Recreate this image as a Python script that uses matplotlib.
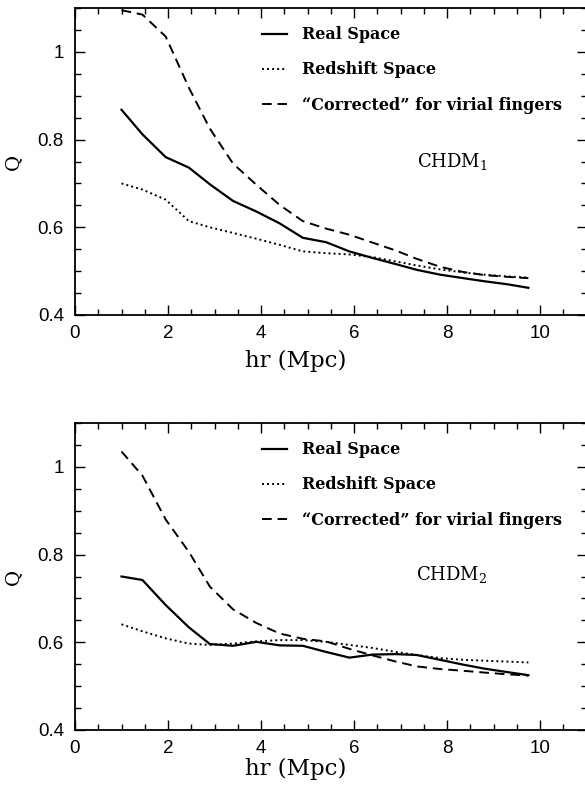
import matplotlib
matplotlib.use("Agg")
import matplotlib.pyplot as plt
from matplotlib.ticker import MultipleLocator

# ---------------- data ----------------
hr = [1.0, 1.45, 1.95, 2.45, 2.9, 3.4, 3.9, 4.4, 4.9, 5.4,
      5.9, 6.4, 6.9, 7.35, 7.85, 8.35, 8.8, 9.3, 9.75]

# CHDM1 (top)
q1_real = [0.868, 0.812, 0.760, 0.736, 0.698, 0.660, 0.636, 0.609, 0.576, 0.566,
           0.545, 0.530, 0.516, 0.503, 0.492, 0.484, 0.477, 0.470, 0.462]
q1_redshift = [0.700, 0.686, 0.663, 0.614, 0.600, 0.587, 0.574, 0.560, 0.545, 0.541,
               0.538, 0.532, 0.522, 0.513, 0.504, 0.497, 0.492, 0.488, 0.485]
q1_corrected = [1.095, 1.085, 1.035, 0.918, 0.825, 0.745, 0.697, 0.651, 0.614, 0.597,
                0.583, 0.565, 0.547, 0.528, 0.510, 0.498, 0.491, 0.487, 0.484]

# CHDM2 (bottom)
q2_real = [0.750, 0.742, 0.685, 0.634, 0.596, 0.592, 0.601, 0.593, 0.592, 0.578,
           0.565, 0.572, 0.573, 0.571, 0.560, 0.549, 0.540, 0.532, 0.525]
q2_redshift = [0.641, 0.625, 0.609, 0.597, 0.594, 0.597, 0.602, 0.605, 0.605, 0.601,
               0.594, 0.587, 0.578, 0.571, 0.564, 0.560, 0.558, 0.556, 0.554]
q2_corrected = [1.035, 0.980, 0.880, 0.806, 0.727, 0.675, 0.644, 0.620, 0.608, 0.602,
                0.585, 0.570, 0.556, 0.545, 0.539, 0.535, 0.531, 0.527, 0.524]

legend_labels = ["Real Space", "Redshift Space", "\u201cCorrected\u201d for virial fingers"]
model_labels = [r"CHDM$_1$", r"CHDM$_2$"]
x_label = "hr (Mpc)"
y_label = "Q"
x_ticks = [0, 2, 4, 6, 8, 10]
y_ticks = [0.4, 0.6, 0.8, 1.0]
y_tick_labels = ["0.4", "0.6", "0.8", "1"]

# ---------------- style ----------------
plt.rcParams["mathtext.fontset"] = "dejavuserif"
SANS = "Liberation Sans"
SERIF = "DejaVu Serif"

fig = plt.figure(figsize=(5.85, 7.91), dpi=100)
left = 75 / 585
width = 511.5 / 585
height = 307 / 791
axes_specs = [
    (1 - 315 / 791, q1_real, q1_redshift, q1_corrected, model_labels[0], -0.15, 0.50),
    (1 - 730 / 791, q2_real, q2_redshift, q2_corrected, model_labels[1], -0.127, 0.508),
]

for bottom, real, red, corr, mlabel, xlab_y, mlab_y in axes_specs:
    ax = fig.add_axes([left, bottom, width, height])
    l1, = ax.plot(hr, real, color="black", lw=1.6, linestyle="-")
    l2, = ax.plot(hr, red, color="black", lw=1.4, linestyle=(0, (1, 1.6)))
    l3, = ax.plot(hr, corr, color="black", lw=1.4, linestyle=(0, (5, 3)))

    ax.set_xlim(0, 11)
    ax.set_ylim(0.4, 1.1)
    ax.set_xticks(x_ticks)
    ax.set_xticklabels([str(t) for t in x_ticks])
    ax.set_yticks(y_ticks)
    ax.set_yticklabels(y_tick_labels)
    ax.xaxis.set_minor_locator(MultipleLocator(0.5))
    ax.yaxis.set_minor_locator(MultipleLocator(0.05))
    ax.tick_params(which="both", direction="in", top=True, right=True, width=1.0)
    ax.tick_params(which="major", length=7)
    ax.tick_params(which="minor", length=4)
    ax.tick_params(axis="x", which="major", pad=7)
    ax.tick_params(axis="y", which="major", pad=8)
    for lab in ax.get_xticklabels() + ax.get_yticklabels():
        lab.set_fontfamily(SANS)
        lab.set_fontsize(13.5)
    for sp in ax.spines.values():
        sp.set_linewidth(1.3)

    ax.set_xlabel(x_label, fontfamily=SERIF, fontsize=16.5, va="center")
    ax.xaxis.set_label_coords(0.432, xlab_y)
    ax.set_ylabel(y_label, fontfamily=SERIF, fontsize=14, va="center", ha="center")
    ax.yaxis.set_label_coords(-0.121, 0.5)

    ax.text(0.737, mlab_y, mlabel, transform=ax.transAxes, fontfamily=SERIF,
            fontsize=13, ha="center", va="center")

    ax.legend([l1, l2, l3], legend_labels, loc="upper left",
              bbox_to_anchor=(0.365, 0.94), frameon=False, borderpad=0,
              borderaxespad=0, handlelength=1.56, handletextpad=0.94,
              labelspacing=1.13,
              prop={"family": SERIF, "weight": "bold", "size": 11.5})

fig.savefig("out.png", dpi=100, facecolor="white")
